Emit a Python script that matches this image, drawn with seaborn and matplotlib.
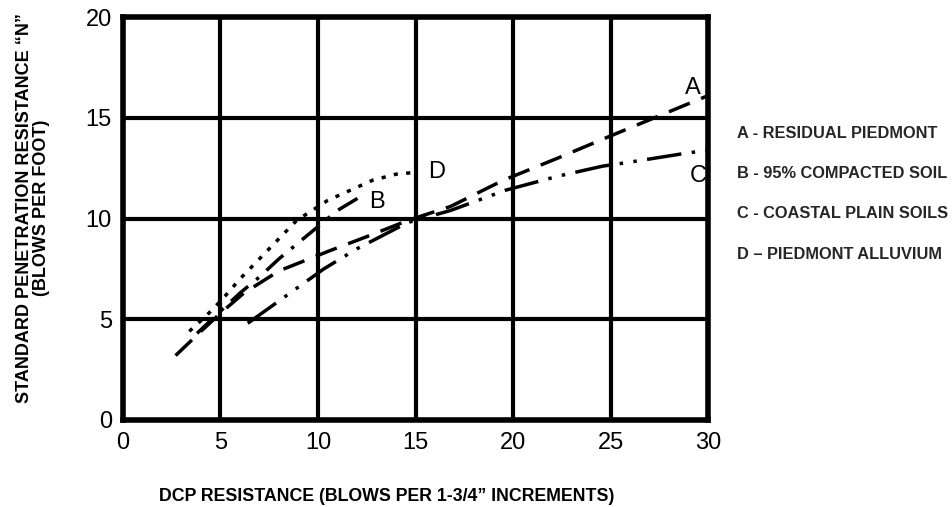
import seaborn as sns
import matplotlib.pyplot as plt

# curve values
a_x = [2.7, 4, 5, 6.2, 8, 10.6, 12.5, 14.6, 16.8, 19.5, 22.3, 25, 27.5, 30]
a_y = [3.2, 4.4, 5.3, 6.3, 7.4, 8.4, 9.1, 9.9, 10.6, 11.9, 13.0, 14.1, 15.1, 16.1]

b_x = [3.8, 5, 6, 7, 8, 9, 10, 11, 12.2]
b_y = [4.3, 5.4, 6.3, 7.1, 8.0, 8.8, 9.6, 10.4, 11.1]

c_x = [6.4, 7.7, 9.0, 10.3, 12, 14.6, 16.8, 19.6, 22.3, 24.6, 26, 28.6, 30]
c_y = [4.8, 5.7, 6.6, 7.5, 8.5, 9.8, 10.4, 11.4, 12.1, 12.6, 12.8, 13.2, 13.4]

d_x = [3.4, 4.3, 5.1, 6, 7, 8, 8.9, 10.5, 12.8, 14, 15.1]
d_y = [4.4, 5.2, 6.0, 7.0, 8.0, 9.0, 9.9, 10.9, 11.9, 12.2, 12.3]

curve_tags = ["A", "B", "C", "D"]
tag_pos = [(29.2, 16.5), (13.0, 10.8), (29.5, 12.1), (16.1, 12.3)]
legend_items = ["A - RESIDUAL PIEDMONT", "B - 95% COMPACTED SOIL",
                "C - COASTAL PLAIN SOILS", "D \u2013 PIEDMONT ALLUVIUM"]

x_ticks = [0, 5, 10, 15, 20, 25, 30]
y_ticks = [0, 5, 10, 15, 20]

sns.set_theme(style="white")
plt.rcParams["font.family"] = ["Liberation Sans", "DejaVu Sans"]

fig = plt.figure(figsize=(9.53, 5.07), dpi=100)
ax = fig.add_axes([0.129, 0.1716, 0.614, 0.7948])

styles = [(0, (6.5, 3.5)), (0, (6.5, 3, 1, 3)), (0, (10, 3, 1, 3, 1, 3)),
          (0, (1.2, 2.4))]
for xs, ys, ls in zip([a_x, b_x, c_x, d_x], [a_y, b_y, c_y, d_y], styles):
    sns.lineplot(x=xs, y=ys, ax=ax, sort=False, color="black", linewidth=2.5,
                 linestyle=ls)

for tag, (tx, ty) in zip(curve_tags, tag_pos):
    ax.text(tx, ty, tag, fontsize=17, ha="center", va="center", color="black")

ax.set_xlim(0, 30)
ax.set_ylim(0, 20)
ax.set_xticks(x_ticks)
ax.set_yticks(y_ticks)
ax.grid(True, color="black", linewidth=3)
ax.set_axisbelow(True)
for sp in ax.spines.values():
    sp.set_color("black")
    sp.set_linewidth(4)
ax.tick_params(length=0, labelsize=17, colors="black")
ax.tick_params(axis="x", pad=9)
ax.tick_params(axis="y", pad=8)

ax.set_xlabel("DCP RESISTANCE (BLOWS PER 1-3/4\u201d INCREMENTS)",
              fontsize=12.8, fontweight="bold", color="black", va="center")
ax.xaxis.set_label_coords(0.45, -0.19)
ax.set_ylabel("STANDARD PENETRATION RESISTANCE \u201cN\u201d\n(BLOWS PER FOOT)",
              fontsize=13, fontweight="bold", color="black", va="center",
              linespacing=1.0)
ax.yaxis.set_label_coords(-0.153, 0.526)

for i, item in enumerate(legend_items):
    fig.text(0.773, 1 - (133 + 40.5 * i) / 507, item, fontsize=11.8,
             fontweight="bold", va="center", ha="left")

fig.savefig("out.png", dpi=100)
